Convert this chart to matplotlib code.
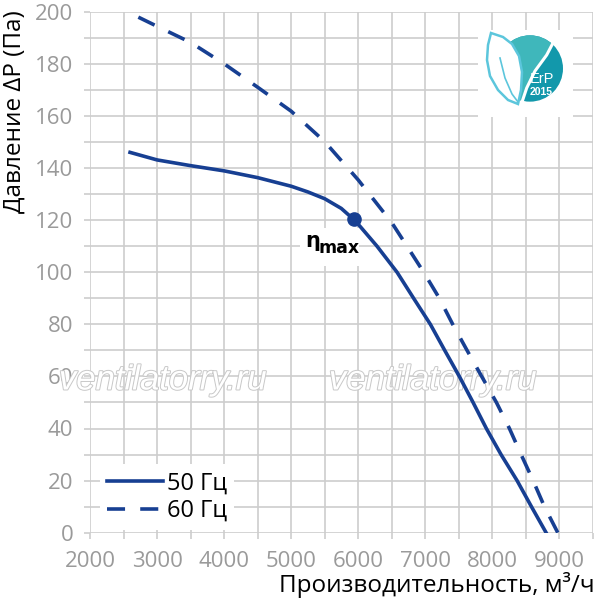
import numpy as np
import matplotlib
matplotlib.use("Agg")
import matplotlib.pyplot as plt
import matplotlib.patheffects as pe
from matplotlib.patches import Circle, Rectangle, Polygon
from matplotlib.ticker import MultipleLocator

plt.rcParams['font.family'] = ['Open Sans', 'DejaVu Sans']

# 50 Hz curve (flow m3/h, pressure Pa)
q50 = [2597, 3000, 3500, 4000, 4500, 5000, 5250, 5500, 5746, 5930, 6030, 6279,
       6578, 6825, 7075, 7289, 7507, 7712, 7910, 8129, 8368, 8582, 8801]
p50 = [146.0, 143.1, 140.9, 138.9, 136.3, 133.0, 130.8, 128.2, 124.5, 120.3, 117.5, 110,
       100, 90, 80, 70, 60, 50, 40, 30, 20, 10, 0]

# 60 Hz curve
q60 = [2721, 3000, 3500, 4000, 4500, 5000, 5500, 6000, 6500, 6726, 6975, 7209, 7408,
       7622, 7840, 8060, 8254, 8428, 8607, 8776, 8975]
p60 = [197.9, 194.4, 188.2, 180.0, 171.0, 161.8, 150.1, 135.4, 119, 110, 100, 90, 80,
       70, 60, 50, 40, 30, 20, 10, 0]

eta_q, eta_p = 5930, 120.3
labels = ['50 Гц', '60 Гц']

line_color = '#173f92'
grid_color = '#cdcdcd'
tick_color = '#9a9a9a'

W, H = 597, 600
fig = plt.figure(figsize=(W / 100, H / 100), dpi=100)
ax = fig.add_axes([90 / W, 1 - 532.7 / H, (593 - 90) / W, (532.7 - 11.7) / H])


def px(x, y):
    return (x / W, 1 - y / H)


ax.set_xlim(2000, 9500)
ax.set_ylim(0, 200)
ax.xaxis.set_minor_locator(MultipleLocator(500))
ax.yaxis.set_major_locator(MultipleLocator(20))
ax.yaxis.set_minor_locator(MultipleLocator(10))
ax.set_xticks(np.arange(2000, 9001, 1000))
ax.grid(True, which='both', color=grid_color, lw=1.2)
ax.set_axisbelow(True)
for s in ax.spines.values():
    s.set_visible(False)
ax.tick_params(which='both', length=4, width=1.2, color=grid_color,
               labelcolor=tick_color, labelsize=16)
ax.tick_params(axis='x', pad=9)
ax.tick_params(axis='y', pad=8)

ax.plot(q50, p50, color=line_color, lw=2.6, label=labels[0], zorder=3)
ax.plot(q60, p60, color=line_color, lw=2.6, dashes=(5, 4.2), label=labels[1], zorder=3)
ax.plot(eta_q, eta_p, 'o', color=line_color, ms=9.5, zorder=4)

# eta max label on a white patch
ax.add_patch(Rectangle((5134, 102.5), 880, 14.5, facecolor='white', edgecolor='none',
                       zorder=2))
fig.text(*px(305, 247), 'η', fontsize=15, weight='bold', family='DejaVu Sans',
         ha='left', va='baseline', zorder=5)
fig.text(*px(319, 252.5), 'max', fontsize=12.5, weight='bold', family='DejaVu Sans',
         ha='left', va='baseline', zorder=5)

leg = ax.legend(loc='center left', bbox_to_anchor=px(88, 497),
                bbox_transform=fig.transFigure, frameon=True, fontsize=17,
                handlelength=2.37, handletextpad=0.17, labelspacing=0.15,
                borderpad=0.3)
leg.get_frame().set_facecolor('white')
leg.get_frame().set_edgecolor('none')
leg.get_frame().set_alpha(1)

# watermarks (behind the curves)
for cx in (163, 433):
    ax.text(*px(cx, 380), 'ventilatorry.ru', transform=fig.transFigure,
            fontsize=25, style='italic', family='Liberation Sans', color='white',
            ha='center', va='center', zorder=2.5,
            path_effects=[pe.withStroke(linewidth=1.4, foreground='#c8c8c8')])

# axis titles
fig.text(*px(15, 10), 'Давление ΔP (Па)', rotation=90, fontsize=17.5,
         ha='center', va='top')
fig.text(*px(595, 585), 'Производительность, м³/ч', fontsize=17.5,
         ha='right', va='center')

# ErP 2015 logo
fig.patches.append(Rectangle(px(478, 117), 95 / W, 87 / H, transform=fig.transFigure,
                             facecolor='white', edgecolor='none', zorder=7))
disc = Circle(px(530, 68.5), 33 / W, transform=fig.transFigure, facecolor='#1298ab',
              edgecolor='none', zorder=8)
fig.patches.append(disc)
light = Polygon([px(*p) for p in [(495, 30), (557, 30), (554, 41), (547, 55),
                                   (535, 71), (527, 88), (521, 104), (495, 104)]],
                closed=True, transform=fig.transFigure, facecolor='#3fb7bb',
                edgecolor='none', zorder=8.5)
light.set_clip_path(disc)
fig.patches.append(light)
fig.lines.append(plt.Line2D([554 / W, 546.7 / W, 535 / W, 526.7 / W, 521.7 / W],
                            [1 - 41 / H, 1 - 55 / H, 1 - 71 / H, 1 - 88 / H, 1 - 103 / H],
                            transform=fig.transFigure, color='white', lw=2.2,
                            zorder=9))
leaf = [px(*p) for p in [(491, 33), (503, 37), (512, 44), (519, 56), (522, 72),
                          (521, 90), (518, 104), (508, 100), (498, 90), (490, 76),
                          (487, 60), (488, 45)]]
fig.patches.append(Polygon(leaf, closed=True, transform=fig.transFigure,
                           facecolor='white', edgecolor='#5cc6dc', lw=1.8, zorder=10))
fig.lines.append(plt.Line2D([500 / W, 505 / W, 512 / W, 518 / W],
                            [1 - 58 / H, 1 - 78 / H, 1 - 94 / H, 1 - 102 / H],
                            transform=fig.transFigure, color='#5cc6dc', lw=1.2,
                            zorder=10.5))
fig.text(*px(542, 79), 'ErP', fontsize=10.5, color='white', ha='center', va='center',
         family='Liberation Sans', zorder=11)
fig.text(*px(541.5, 92), '2015', fontsize=7.5, color='white', ha='center', va='center',
         family='Liberation Sans', weight='bold', zorder=11)

fig.savefig('out.png', dpi=100)
